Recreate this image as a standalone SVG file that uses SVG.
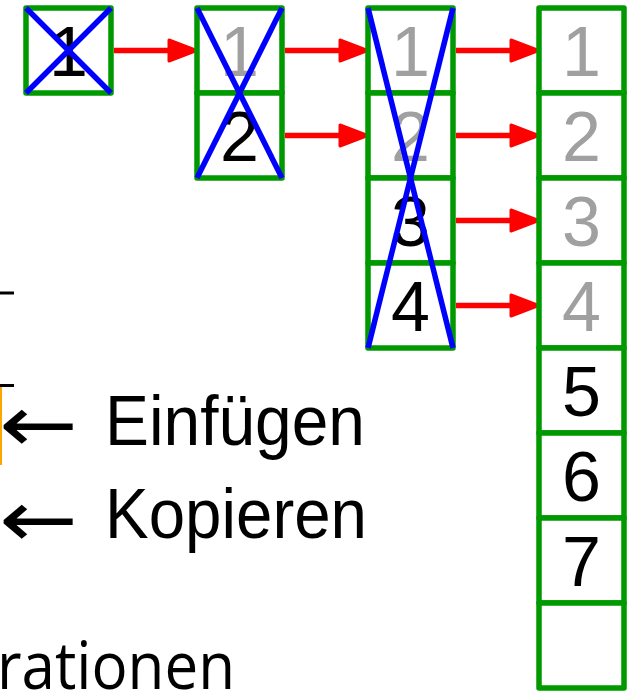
<svg xmlns="http://www.w3.org/2000/svg" width="634" height="693" viewBox="0 0 634 693">
<style>
.cell{fill:#fff;stroke:#009900;stroke-width:5.5;stroke-linejoin:round}
.num{font-family:"Liberation Sans",Arial,sans-serif;font-size:70px;text-anchor:middle}
.blk{fill:#000}
.gry{fill:#a0a0a0}
.x{stroke:#0000ff;stroke-width:5.5;fill:none}
.arr{stroke:#ff0000;stroke-width:5.5;fill:none;marker-end:url(#ah)}
.lbl{font-family:"Liberation Sans",Arial,sans-serif;font-size:70px;fill:#000}
.sym{font-family:"DejaVu Sans",sans-serif;font-size:80px;fill:#000}
</style>
<defs>
<marker id="ah" markerUnits="userSpaceOnUse" viewBox="0 0 32 24" markerWidth="32" markerHeight="24" refX="12.5" refY="12" orient="auto" overflow="visible">
<path d="M1.5,1.5 L29,12 L1.5,22.5 Z" fill="#ff0000" stroke="#ff0000" stroke-width="3" stroke-linejoin="round"/>
</marker>
</defs>
<rect width="634" height="693" fill="#fff"/>

<g id="left-fragments">
<line x1="0" y1="293" x2="14" y2="293" stroke="#000" stroke-width="3"/>
<line x1="0" y1="385.5" x2="14" y2="385.5" stroke="#000" stroke-width="3"/>
<line x1="1" y1="387" x2="1" y2="465" stroke="#ffa500" stroke-width="2"/>
</g>

<g id="label-einfuegen">
<text class="sym" x="-1" y="452" textLength="79" lengthAdjust="spacingAndGlyphs">←</text>
<text class="lbl" x="105" y="445" textLength="260" lengthAdjust="spacingAndGlyphs">Einfügen</text>
</g>
<g id="label-kopieren">
<text class="sym" x="-1" y="547" textLength="79" lengthAdjust="spacingAndGlyphs">←</text>
<text class="lbl" x="105" y="538" textLength="262" lengthAdjust="spacingAndGlyphs">Kopieren</text>
</g>
<g id="label-operationen">
<text x="-3" y="689" font-family="'Open Sans','Noto Sans',sans-serif" font-size="66" fill="#000" textLength="238" lengthAdjust="spacingAndGlyphs">rationen</text>
</g>

<g id="connectors">
<line class="arr" x1="114" y1="50.5" x2="180" y2="50.5"/>
<line class="arr" x1="285" y1="50.5" x2="351" y2="50.5"/>
<line class="arr" x1="285" y1="135.5" x2="351" y2="135.5"/>
<line class="arr" x1="456" y1="50.5" x2="522" y2="50.5"/>
<line class="arr" x1="456" y1="135.5" x2="522" y2="135.5"/>
<line class="arr" x1="456" y1="220.5" x2="522" y2="220.5"/>
<line class="arr" x1="456" y1="305.5" x2="522" y2="305.5"/>
</g>

<g id="array-1">
<rect class="cell" x="26" y="8" width="85" height="85"/>
<text class="num blk" x="68.5" y="75.5">1</text>
<line class="x" x1="26" y1="8" x2="111" y2="93"/>
<line class="x" x1="111" y1="8" x2="26" y2="93"/>
</g>

<g id="array-2">
<rect class="cell" x="197" y="8" width="85" height="85"/>
<rect class="cell" x="197" y="93" width="85" height="85"/>
<text class="num gry" x="239.5" y="75.5">1</text>
<text class="num blk" x="239.5" y="160.5">2</text>
<line class="x" x1="197" y1="8" x2="282" y2="178"/>
<line class="x" x1="282" y1="8" x2="197" y2="178"/>
</g>

<g id="array-3">
<rect class="cell" x="368" y="8" width="85" height="85"/>
<rect class="cell" x="368" y="93" width="85" height="85"/>
<rect class="cell" x="368" y="178" width="85" height="85"/>
<rect class="cell" x="368" y="263" width="85" height="85"/>
<text class="num gry" x="410.5" y="75.5">1</text>
<text class="num gry" x="410.5" y="160.5">2</text>
<text class="num blk" x="410.5" y="245.5">3</text>
<text class="num blk" x="410.5" y="330.5">4</text>
<line class="x" x1="368" y1="8" x2="453" y2="348"/>
<line class="x" x1="453" y1="8" x2="368" y2="348"/>
</g>

<g id="array-4">
<rect class="cell" x="539" y="8" width="85" height="85"/>
<rect class="cell" x="539" y="93" width="85" height="85"/>
<rect class="cell" x="539" y="178" width="85" height="85"/>
<rect class="cell" x="539" y="263" width="85" height="85"/>
<rect class="cell" x="539" y="348" width="85" height="85"/>
<rect class="cell" x="539" y="433" width="85" height="85"/>
<rect class="cell" x="539" y="518" width="85" height="85"/>
<rect class="cell" x="539" y="603" width="85" height="85"/>
<text class="num gry" x="581.5" y="75.5">1</text>
<text class="num gry" x="581.5" y="160.5">2</text>
<text class="num gry" x="581.5" y="245.5">3</text>
<text class="num gry" x="581.5" y="330.5">4</text>
<text class="num blk" x="581.5" y="415.5">5</text>
<text class="num blk" x="581.5" y="500.5">6</text>
<text class="num blk" x="581.5" y="585.5">7</text>
</g>
</svg>
